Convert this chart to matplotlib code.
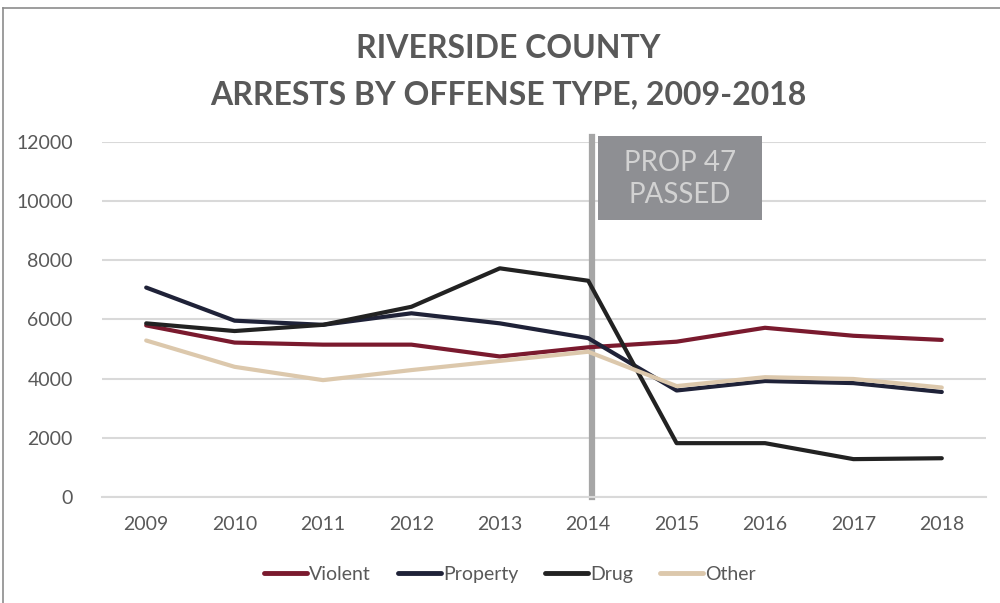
import matplotlib
matplotlib.use("Agg")
import matplotlib.pyplot as plt
from matplotlib.lines import Line2D
from matplotlib.patches import Rectangle

years = ["2009", "2010", "2011", "2012", "2013", "2014", "2015", "2016", "2017", "2018"]
violent = [5800, 5220, 5150, 5150, 4750, 5060, 5250, 5720, 5450, 5310]
property_ = [7080, 5960, 5820, 6210, 5870, 5370, 3600, 3920, 3850, 3550]
drug = [5870, 5610, 5820, 6430, 7730, 7310, 1820, 1820, 1280, 1310]
other = [5290, 4400, 3950, 4290, 4600, 4910, 3750, 4050, 3990, 3700]

series = [
    ("Violent", violent, "#7a1a2e"),
    ("Property", property_, "#1f2238"),
    ("Drug", drug, "#222222"),
    ("Other", other, "#dcc8ac"),
]

plt.rcParams["font.family"] = ["Lato", "DejaVu Sans"]

fig = plt.figure(figsize=(10, 6.03), dpi=100)
ax = fig.add_axes([0.102, 0.1758, 0.884, 0.5887])

x = list(range(len(years)))

# Prop 47 marker line, just right of 2014
ax.plot([5.04, 5.04], [0, 12170], color="#a6a6a6", lw=4.5, zorder=1, clip_on=False)

for name, vals, col in series:
    ax.plot(x, vals, color=col, lw=3, solid_capstyle="round", solid_joinstyle="round",
            label=name, zorder=3)

ax.set_xlim(-0.5, 9.5)
ax.set_ylim(0, 12000)
ax.set_yticks(range(0, 12001, 2000))
ax.set_xticks(x)
ax.set_xticklabels(years)
ax.grid(axis="y", color="#d9d9d9", lw=1.5)
ax.set_axisbelow(True)
for s in ax.spines.values():
    s.set_visible(False)
ax.spines["bottom"].set_visible(True)
ax.spines["bottom"].set_color("#d9d9d9")
ax.spines["bottom"].set_linewidth(1.5)
ax.tick_params(length=0, labelsize=14, labelcolor="#595959")
ax.tick_params(axis="x", pad=14)
ax.tick_params(axis="y", pad=21)

# annotation box
ax.add_patch(Rectangle((5.11, 9370), 1.86, 2830, fc="#8e8f93", ec="none",
                       clip_on=False, zorder=4))
ax.text(6.04, 10760, "PROP 47\nPASSED", ha="center", va="center", fontsize=20,
        color="#d2d2d2", linespacing=1.3, zorder=5)

fig.text(0.508, 0.92, "RIVERSIDE COUNTY", ha="center", va="center", fontsize=23,
         fontweight="bold", color="#595959")
fig.text(0.508, 0.843, "ARRESTS BY OFFENSE TYPE, 2009-2018", ha="center", va="center",
         fontsize=23, fontweight="bold", color="#595959")

handles = [Line2D([], [], color=c, lw=3.5, solid_capstyle="round") for _, _, c in series]
fig.legend(handles, [n for n, _, _ in series], loc="center", bbox_to_anchor=(0.51, 0.048),
           ncol=4, frameon=False, fontsize=14, handlelength=2.2, handletextpad=0.1,
           columnspacing=1.4, labelcolor="#595959")

# partial outer frame
fig.add_artist(Line2D([0.003, 0.003], [0, 0.987], color="#8c8c8c", lw=1.2))
fig.add_artist(Line2D([0.003, 1], [0.987, 0.987], color="#8c8c8c", lw=1.2))

fig.savefig("out.png", dpi=100)
